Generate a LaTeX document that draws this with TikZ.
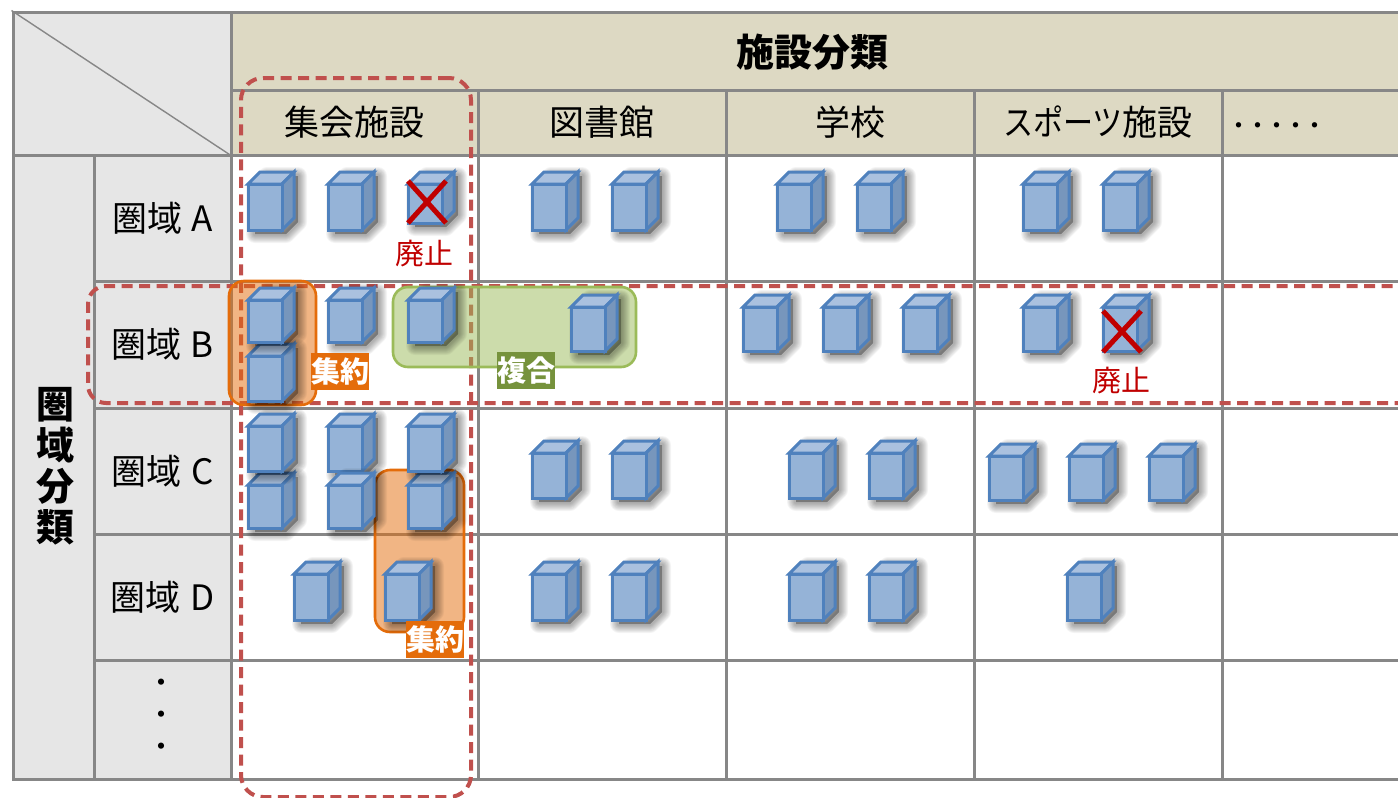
\documentclass[tikz,border=0pt]{standalone}
\usepackage{fontspec}
\setmainfont{Noto Sans CJK JP}
\definecolor{gridgray}{HTML}{878787}
\definecolor{headtan}{HTML}{DDD9C3}
\definecolor{sidegray}{HTML}{E6E6E6}
\definecolor{bldgline}{HTML}{4F81BD}
\definecolor{bldgfront}{HTML}{95B3D7}
\definecolor{bldgtop}{HTML}{AAC1DF}
\definecolor{bldgside}{HTML}{7796BC}
\definecolor{dashred}{HTML}{C0504D}
\definecolor{crossred}{HTML}{C00000}
\definecolor{mergeorange}{HTML}{E46C0A}
\definecolor{mixgreen}{HTML}{9BBB59}
\definecolor{mixolive}{HTML}{76923C}
\tikzset{
  cell/.style={draw=gridgray, line width=3pt, inner sep=0pt, fill=white},
  head/.style={cell, fill=headtan, font=\fontsize{35}{35}\selectfont},
  side/.style={cell, fill=sidegray, font=\fontsize{35}{35}\selectfont},
  focus/.style={draw=dashred, line width=4pt, dash pattern=on 11pt off 6.5pt, inner sep=0pt, rounded corners=22pt},
  mergebox/.style={draw=mergeorange, line width=2.6pt, fill=mergeorange, fill opacity=.5, inner sep=0pt, rounded corners=15pt},
  mixbox/.style={draw=mixgreen, line width=2.6pt, fill=mixgreen, fill opacity=.5, inner sep=0pt, rounded corners=15pt},
  tag/.style={text=white, font=\fontsize{29}{29}\selectfont\bfseries, inner sep=0pt, minimum width=58pt, minimum height=37pt},
  gone/.style={text=crossred, font=\fontsize{29}{29}\selectfont},
  cross/.style={draw=crossred, line width=5pt}
}
% x, bottom, height of the front face
\newcommand{\bldg}[3]{%
  \foreach \w in {18,16,14,12,10,8,6,4}
    \path[draw=black, fill=black, opacity=.042, line width=\w pt, line join=round]
      (#1+8,#2+3) -- ++(0,-#3+2) -- ++(12,-12) -- ++(31,0) -- ++(0,#3-2) -- ++(-12,12) -- cycle;
  \filldraw[draw=bldgline, line width=3pt, line join=miter, fill=bldgtop]
    (#1+1,#2-#3+1) -- ++(12,-12) -- ++(34,0) -- ++(-12,12) -- cycle;
  \filldraw[draw=bldgline, line width=3pt, line join=miter, fill=bldgside]
    (#1+35,#2-#3+1) -- ++(12,-12) -- ++(0,#3-2) -- ++(-12,12) -- cycle;
  \filldraw[draw=bldgline, line width=3pt, line join=miter, fill=bldgfront]
    (#1+1,#2-#3+1) rectangle ++(34,#3-2);
}
\begin{document}
\begin{tikzpicture}[x=1pt, y=-1pt]
  \useasboundingbox (0,0) rectangle (1398,798);
  % header
  \node[side, minimum width=218pt, minimum height=143pt] (corner) at (122,83.5) {};
  \draw[gridgray, line width=1.4pt] (corner.north west) -- (corner.south east);
  \node[head, minimum width=1173pt, minimum height=78pt] (facility) at (817.5,51) {};
  \node[font=\fontsize{38}{38}\selectfont\bfseries] (facilitytext) at (812,52) {施設分類};
  \node[head, minimum width=247pt, minimum height=65pt] (hall) at (354.5,122.5) {集会施設};
  \node[head, minimum width=248pt, minimum height=65pt] (library) at (602,122.5) {図書館};
  \node[head, minimum width=248pt, minimum height=65pt] (school) at (850,122.5) {学校};
  \node[head, minimum width=248pt, minimum height=65pt] (sports) at (1098,122.5) {\scalebox{.86}[1]{スポーツ}施設\hspace{2pt}};
  \node[head, minimum width=180pt, minimum height=65pt] (other) at (1312,122.5) {};
  \node[font=\fontsize{19}{19}\selectfont\bfseries, anchor=west] (otherdots) at (1226,128) {・・・・・};
  % side
  \node[side, minimum width=81pt, minimum height=624pt] (area) at (53.5,467) {};
  \node[font=\fontsize{38}{41}\selectfont\bfseries, align=center] (areatext) at (55,466) {圏\\域\\分\\類};
  \node[side, minimum width=137pt, minimum height=126pt] (zoneA) at (162.5,218) {圏域\;A\hspace{4pt}};
  \node[side, minimum width=137pt, minimum height=127pt] (zoneB) at (162.5,344.5) {圏域\;B\hspace{4pt}};
  \node[side, minimum width=137pt, minimum height=126pt] (zoneC) at (162.5,471) {圏域\;C\hspace{4pt}};
  \node[side, minimum width=137pt, minimum height=126pt] (zoneD) at (162.5,597) {圏域\;D\hspace{4pt}};
  \node[side, minimum width=137pt, minimum height=119pt] (zoneE) at (162.5,719.5) {};
  \node[font=\fontsize{22}{32}\selectfont\bfseries, align=center] (zonedots) at (161,717) {・\\・\\・};
  % body
  \foreach \y/\h [count=\r] in {218/126,344.5/127,471/126,597/126,719.5/119}
    \foreach \x/\w [count=\c] in {354.5/247,602/248,850/248,1098/248,1312/180}
      \node[cell, minimum width=\w pt, minimum height=\h pt] (body\r\c) at (\x,\y) {};
  % outlines
  \node[focus, minimum width=230pt, minimum height=719pt] (hallfocus) at (356,437.5) {};
  \node[focus, rounded corners=18pt, minimum width=1340pt, minimum height=117pt] (zonefocus) at (758,344.5) {};
  \node[mergebox, minimum width=87pt, minimum height=124pt] (mergeB) at (272.5,343) {};
  \node[mergebox, minimum width=89pt, minimum height=162pt] (mergeC) at (419.5,551) {};
  \node[mixbox, minimum width=243pt, minimum height=80pt] (mix) at (514.5,327) {};
  % buildings
  \foreach \x/\y/\h in {247/231/48,327/231/48,531/231/48,611/231/48,776/231/48,856/231/48,1022/231/48,1102/231/48,
    327/343/44,407/343/44,570/352/46,742/352/46,822/352/46,902/352/46,1022/352/46,
    247/402/47,247/343/44,
    247/529/45,407/529/45,247/472/47,407/472/47,327/472/47,327/529/45,
    531/499/47,611/499/47,788/499/47,868/499/47,988/501/46,1068/501/46,1148/501/46,
    293/621/48,384/621/48,531/621/48,611/621/48,788/621/48,868/621/48,1066/621/48}
    {\bldg{\x}{\y}{\h}}
  \bldg{407}{224}{41}
  \bldg{1102}{352}{46}
  % closed
  \draw[cross] (408,181) -- (446,223) (446,181) -- (408,223);
  \draw[cross] (1103,311) -- (1141,352) (1141,311) -- (1103,352);
  \node[gone] (goneA) at (424,254) {廃止};
  \node[gone] (goneB) at (1121,381) {廃止};
  % tags
  \node[tag, fill=mergeorange] (tagB) at (340,371.5) {集約};
  \node[tag, fill=mixolive] (tagmix) at (526,370.5) {複合};
  \node[tag, fill=mergeorange] (tagC) at (435,639) {集約};
\end{tikzpicture}
\end{document}
